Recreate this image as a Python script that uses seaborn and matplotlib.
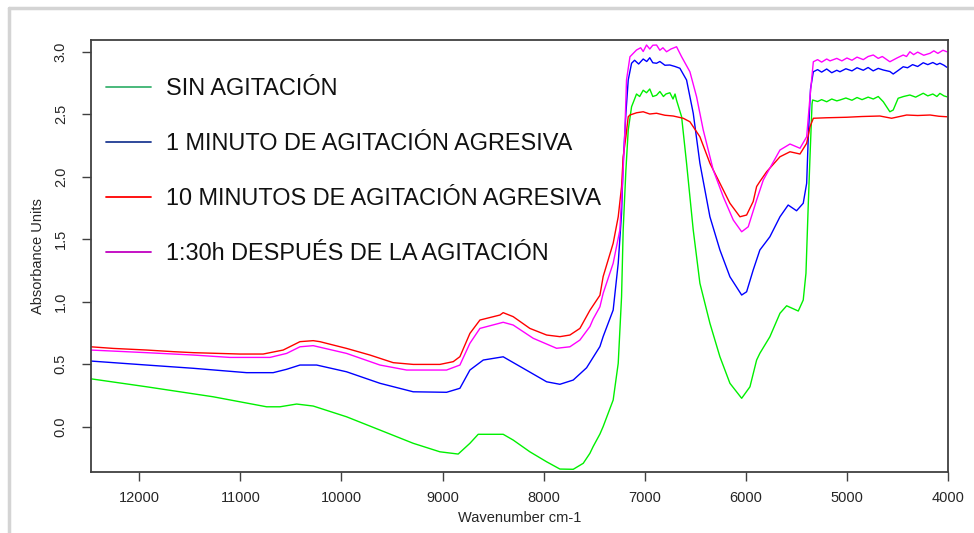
import numpy as np
import pandas as pd
import seaborn as sns
import matplotlib
matplotlib.use("Agg")
import matplotlib.pyplot as plt
from matplotlib.lines import Line2D
from matplotlib import font_manager as fm

# ---------------- data ----------------
labels = ["SIN AGITACIÓN", "1 MINUTO DE AGITACIÓN AGRESIVA",
          "10 MINUTOS DE AGITACIÓN AGRESIVA", "1:30h DESPUÉS DE LA AGITACIÓN"]

wn_sin = [12480, 11927, 11268, 10740, 10608, 10443, 10279, 9949, 9619, 9290, 9026, 8845,
          8729, 8647, 8400, 8301, 8136, 7970, 7839, 7707, 7608, 7542, 7510, 7443, 7411,
          7312, 7262, 7229, 7213, 7186, 7163, 7130, 7100, 7081, 7050, 7015, 6982, 6950,
          6920, 6883, 6850, 6815, 6790, 6751, 6720, 6700, 6685, 6635, 6586, 6520, 6454,
          6355, 6256, 6157, 6041, 5959, 5893, 5861, 5762, 5662, 5596, 5481, 5432, 5405,
          5383, 5365, 5345, 5339, 5290, 5250, 5200, 5150, 5100, 5069, 5010, 4950, 4900,
          4850, 4790, 4739, 4690, 4640, 4575, 4542, 4493, 4440, 4377, 4320, 4245, 4200,
          4150, 4110, 4080, 4040, 4012]
abs_sin = [0.382, 0.318, 0.238, 0.158, 0.158, 0.180, 0.164, 0.078, -0.028, -0.134, -0.202, -0.220,
           -0.134, -0.062, -0.062, -0.108, -0.202, -0.282, -0.340, -0.342, -0.294, -0.214, -0.160, -0.060, 0.000,
           0.212, 0.506, 1.038, 1.572, 2.052, 2.372, 2.558, 2.620, 2.660, 2.640, 2.690, 2.670, 2.700,
           2.640, 2.650, 2.680, 2.640, 2.660, 2.670, 2.620, 2.660, 2.610, 2.478, 2.106, 1.572, 1.146,
           0.826, 0.558, 0.346, 0.226, 0.318, 0.532, 0.586, 0.718, 0.906, 0.966, 0.924, 1.012, 1.226,
           1.758, 2.158, 2.580, 2.612, 2.600, 2.615, 2.598, 2.620, 2.605, 2.612, 2.628, 2.610, 2.632,
           2.615, 2.635, 2.620, 2.640, 2.598, 2.518, 2.532, 2.626, 2.640, 2.652, 2.635, 2.666, 2.645,
           2.660, 2.640, 2.665, 2.645, 2.638]

wn_1min = [12480, 11927, 11466, 10938, 10675, 10542, 10410, 10245, 9949, 9619, 9290, 8960,
           8828, 8729, 8597, 8400, 8202, 7970, 7839, 7707, 7575, 7443, 7411, 7312, 7262,
           7229, 7213, 7186, 7163, 7130, 7100, 7060, 7015, 6980, 6950, 6920, 6883, 6850,
           6800, 6751, 6700, 6652, 6586, 6520, 6454, 6355, 6256, 6157, 6041, 5992, 5927,
           5861, 5762, 5662, 5581, 5498, 5432, 5398, 5383, 5360, 5332, 5290, 5250, 5200,
           5150, 5100, 5069, 5010, 4950, 4900, 4838, 4790, 4740, 4690, 4640, 4575, 4542,
           4490, 4443, 4400, 4350, 4300, 4245, 4200, 4150, 4110, 4080, 4040, 4012]
abs_1min = [0.524, 0.492, 0.466, 0.431, 0.431, 0.458, 0.492, 0.492, 0.438, 0.346, 0.278, 0.274,
            0.306, 0.452, 0.532, 0.558, 0.466, 0.358, 0.338, 0.372, 0.470, 0.640, 0.720, 0.932, 1.306,
            1.706, 2.106, 2.506, 2.772, 2.906, 2.930, 2.900, 2.940, 2.920, 2.950, 2.910, 2.906, 2.920,
            2.890, 2.892, 2.880, 2.866, 2.772, 2.506, 2.106, 1.678, 1.412, 1.198, 1.052, 1.078, 1.252,
            1.412, 1.518, 1.678, 1.772, 1.726, 1.786, 1.946, 2.292, 2.700, 2.838, 2.855, 2.835, 2.860,
            2.830, 2.850, 2.838, 2.862, 2.845, 2.870, 2.850, 2.872, 2.845, 2.865, 2.852, 2.840, 2.820,
            2.850, 2.878, 2.870, 2.895, 2.880, 2.910, 2.895, 2.912, 2.895, 2.906, 2.890, 2.874]

wn_10min = [12480, 12257, 11927, 11664, 11466, 11004, 10774, 10576, 10410, 10279, 10213, 9949,
            9718, 9488, 9290, 9026, 8894, 8828, 8729, 8630, 8432, 8400, 8301, 8136, 7970,
            7839, 7740, 7641, 7542, 7443, 7411, 7312, 7262, 7229, 7213, 7186, 7163, 7146,
            7080, 7015, 6950, 6883, 6800, 6718, 6619, 6553, 6454, 6355, 6256, 6157, 6058,
            5992, 5927, 5893, 5861, 5794, 5662, 5563, 5464, 5398, 5365, 5332, 5200, 5003,
            4850, 4674, 4558, 4409, 4300, 4177, 4090, 4012]
abs_10min = [0.638, 0.625, 0.612, 0.599, 0.591, 0.580, 0.580, 0.612, 0.679, 0.687, 0.679, 0.625,
             0.572, 0.511, 0.497, 0.497, 0.519, 0.559, 0.745, 0.852, 0.892, 0.911, 0.879, 0.785, 0.732,
             0.719, 0.732, 0.785, 0.930, 1.050, 1.200, 1.466, 1.678, 1.918, 2.158, 2.318, 2.478, 2.492,
             2.510, 2.518, 2.500, 2.506, 2.490, 2.484, 2.466, 2.438, 2.318, 2.106, 1.946, 1.786, 1.678,
             1.692, 1.800, 1.920, 1.960, 2.038, 2.158, 2.198, 2.180, 2.266, 2.398, 2.466, 2.470, 2.474,
             2.480, 2.484, 2.466, 2.492, 2.488, 2.492, 2.482, 2.478]

wn_130h = [12480, 11927, 11466, 11103, 10707, 10542, 10410, 10279, 9949, 9619, 9355, 8960,
           8828, 8729, 8630, 8400, 8301, 8103, 7872, 7740, 7641, 7542, 7510, 7443, 7411,
           7312, 7246, 7213, 7196, 7180, 7146, 7081, 7040, 7015, 6982, 6950, 6920, 6883,
           6850, 6820, 6784, 6740, 6685, 6635, 6553, 6487, 6421, 6322, 6223, 6124, 6041,
           5976, 5893, 5827, 5760, 5662, 5563, 5464, 5398, 5365, 5332, 5290, 5250, 5200,
           5167, 5100, 5050, 5000, 4950, 4900, 4838, 4790, 4739, 4690, 4650, 4575, 4500,
           4443, 4410, 4377, 4340, 4300, 4240, 4177, 4140, 4100, 4050, 4012]
abs_130h = [0.612, 0.591, 0.572, 0.553, 0.553, 0.585, 0.638, 0.647, 0.585, 0.492, 0.452, 0.452,
            0.492, 0.666, 0.785, 0.834, 0.812, 0.706, 0.626, 0.638, 0.692, 0.800, 0.860, 0.958, 1.066,
            1.306, 1.572, 2.052, 2.372, 2.772, 2.958, 3.012, 3.030, 3.000, 3.052, 3.020, 3.050, 3.052,
            3.010, 3.030, 2.998, 3.020, 3.038, 2.958, 2.838, 2.638, 2.372, 2.052, 1.838, 1.652, 1.558,
            1.598, 1.812, 1.972, 2.070, 2.212, 2.260, 2.226, 2.318, 2.638, 2.918, 2.935, 2.915, 2.940,
            2.925, 2.945, 2.925, 2.948, 2.930, 2.955, 2.935, 2.960, 2.972, 2.945, 2.960, 2.918, 2.950,
            2.972, 2.960, 2.998, 2.975, 2.995, 2.970, 2.986, 3.005, 2.985, 3.010, 2.998]

line_colors = ["#00f000", "#0000ff", "#ff0000", "#ff00ff"]
legend_colors = ["#3cb371", "#1f3a93", "#ff0000", "#c000c0"]

x_ticks = [12000, 11000, 10000, 9000, 8000, 7000, 6000, 5000, 4000]
y_ticks = [0.0, 0.5, 1.0, 1.5, 2.0, 2.5, 3.0]

# ---------------- frame ----------------
df = pd.concat([
    pd.DataFrame({"wn": w, "absorb": a, "serie": lab})
    for w, a, lab in zip([wn_sin, wn_1min, wn_10min, wn_130h],
                         [abs_sin, abs_1min, abs_10min, abs_130h], labels)
], ignore_index=True)

sns.set_theme(style="white")
names = {f.name for f in fm.fontManager.ttflist}
if "Liberation Sans Narrow" in names:
    tick_family, tsize = "Liberation Sans Narrow", 12
else:
    tick_family, tsize = "Liberation Sans", 10.5
plt.rcParams["font.family"] = ["Liberation Sans", "DejaVu Sans"]

W, H = 974, 533
fig = plt.figure(figsize=(W / 100, H / 100), dpi=100)
ax = fig.add_axes([90.7 / W, 1 - 472.3 / H, (948 - 90.7) / W, (472.3 - 40) / H])

sns.lineplot(data=df, x="wn", y="absorb", hue="serie", hue_order=labels,
             palette=line_colors, estimator=None, sort=True, linewidth=1.0,
             legend=False, ax=ax)

ax.set_xlim(12480, 4000)
ax.set_ylim(-0.366, 3.092)
ax.set_xticks(x_ticks)
ax.set_xticklabels([str(t) for t in x_ticks], family=tick_family, fontsize=tsize)
ax.set_yticks(y_ticks)
ax.set_yticklabels([f"{t:.1f}" for t in y_ticks], family=tick_family, fontsize=tsize,
                   rotation=90, va="center")
ax.tick_params(axis="both", which="both", direction="out", length=6.5, width=1.0,
               color="#404040", bottom=True, left=True, top=False, right=False)
ax.tick_params(axis="y", pad=10)
ax.tick_params(axis="x", pad=7)
for s in ax.spines.values():
    s.set_color("#404040")
    s.set_linewidth(1.3)
ax.set_xlabel("Wavenumber cm-1", family=tick_family, fontsize=tsize, labelpad=4)
ax.set_ylabel("Absorbance Units", family=tick_family, fontsize=tsize, labelpad=6)

handles = [Line2D([0], [0], color=c, lw=1.3) for c in legend_colors]
leg = ax.legend(handles, labels, loc="upper left", bbox_to_anchor=(15 / 857, 1 - 37 / 432),
                frameon=False, fontsize=16.9, handlelength=1.95, handletextpad=0.6,
                labelspacing=1.36, borderaxespad=0, borderpad=0)
for t in leg.get_texts():
    t.set_color("#111111")

# light grey outer frame
fig.add_artist(Line2D([9 / W, 1.0], [1 - 8 / H, 1 - 8 / H], color="#d4d4d4", lw=2.5,
                      transform=fig.transFigure))
fig.add_artist(Line2D([9 / W, 9 / W], [0.0, 1 - 8 / H], color="#d4d4d4", lw=2.5,
                      transform=fig.transFigure))

fig.savefig("out.png", dpi=100, facecolor="white")
